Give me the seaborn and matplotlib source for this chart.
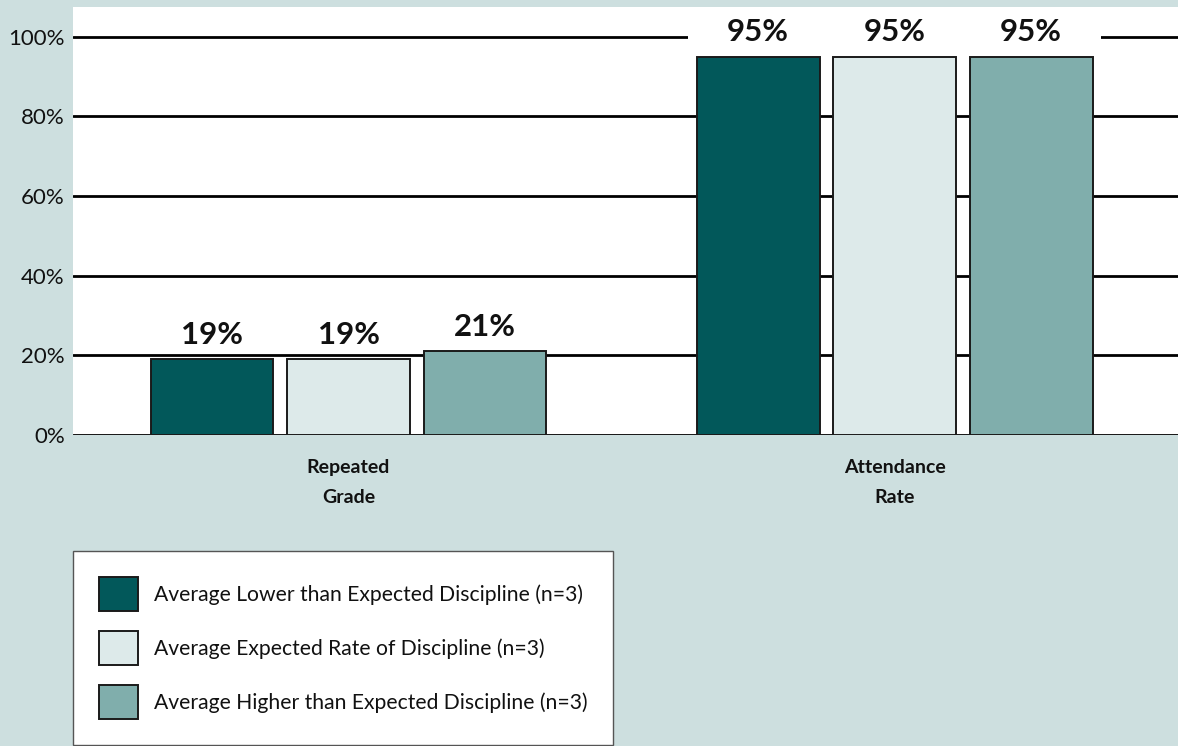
import matplotlib
matplotlib.use("Agg")
import matplotlib.pyplot as plt
import seaborn as sns
import pandas as pd
from matplotlib.path import Path

# data
categories = ["Repeated\nGrade", "Attendance\nRate"]
series = [
    "Average Lower than Expected Discipline (n=3)",
    "Average Expected Rate of Discipline (n=3)",
    "Average Higher than Expected Discipline (n=3)",
]
lower_vals = [19, 95]
expected_vals = [19, 95]
higher_vals = [21, 95]
y_ticks = [0, 20, 40, 60, 80, 100]

colors = ["#02585a", "#ddeaea", "#80aeac"]
bg = "#cddfdf"

sns.set_theme(style="white")
plt.rcParams["font.family"] = ["Lato", "DejaVu Sans"]

rows = []
for name, vals in zip(series, [lower_vals, expected_vals, higher_vals]):
    for cat, v in zip(categories, vals):
        rows.append({"category": cat, "series": name, "value": v})
df = pd.DataFrame(rows)

fig = plt.figure(figsize=(11.78, 7.46), dpi=100, facecolor=bg)
ax = fig.add_axes([73 / 1178, 311 / 746, 1105 / 1178, 428 / 746])
ax.set_facecolor("white")

sns.barplot(
    data=df, x="category", y="value", hue="series", hue_order=series,
    order=categories, palette=colors, width=0.75, gap=0.1,
    edgecolor="#1a1a1a", linewidth=1.4, saturation=1, ax=ax,
)

handles, labels = ax.get_legend_handles_labels()
ax.get_legend().remove()


# wide, flat box behind value labels so the gridline is hidden across the bar slot
def slot_box(x0, y0, width, height, mutation_size):
    cx = x0 + width / 2
    half = mutation_size * 2.25
    pad_y = mutation_size * 0.05
    verts = [(cx - half, y0 - pad_y), (cx + half, y0 - pad_y),
             (cx + half, y0 + height + pad_y), (cx - half, y0 + height + pad_y),
             (cx - half, y0 - pad_y)]
    return Path(verts, closed=True)


for cont in ax.containers:
    texts = ax.bar_label(cont, fmt="%d%%", padding=7.5, fontsize=22.5, fontweight="bold", color="#111111")
    for t in texts:
        t.set_bbox(dict(boxstyle=slot_box, facecolor="white", edgecolor="none"))
        t.set_clip_on(True)

ax.set_ylim(0, 107.5)
ax.set_xlim(-0.5046, 1.519)
ax.set_yticks(y_ticks)
ax.set_yticklabels([f"{v}%" for v in y_ticks])
ax.yaxis.grid(True, color="black", linewidth=2)
ax.set_axisbelow(True)
ax.set_xlabel("")
ax.set_ylabel("")
for s in ax.spines.values():
    s.set_visible(False)
ax.tick_params(axis="y", length=0, pad=6, labelsize=16, labelcolor="#111111")
ax.tick_params(axis="x", length=0, pad=17)
for lab in ax.get_xticklabels():
    lab.set_fontsize(14)
    lab.set_fontweight("bold")
    lab.set_linespacing(1.95)
    lab.set_color("#111111")

leg = fig.legend(
    handles, labels, loc="upper left", bbox_to_anchor=(73 / 1178, 1 - 551 / 746),
    frameon=True, fancybox=False, framealpha=1, edgecolor="#555555",
    fontsize=15.2, handlelength=1.85, handleheight=2.1, labelspacing=0.95,
    handletextpad=0.75, borderpad=1.23, borderaxespad=0,
)
leg.get_frame().set_linewidth(1)
for txt in leg.get_texts():
    txt.set_color("#111111")

fig.savefig("out.png", dpi=100, facecolor=bg)
